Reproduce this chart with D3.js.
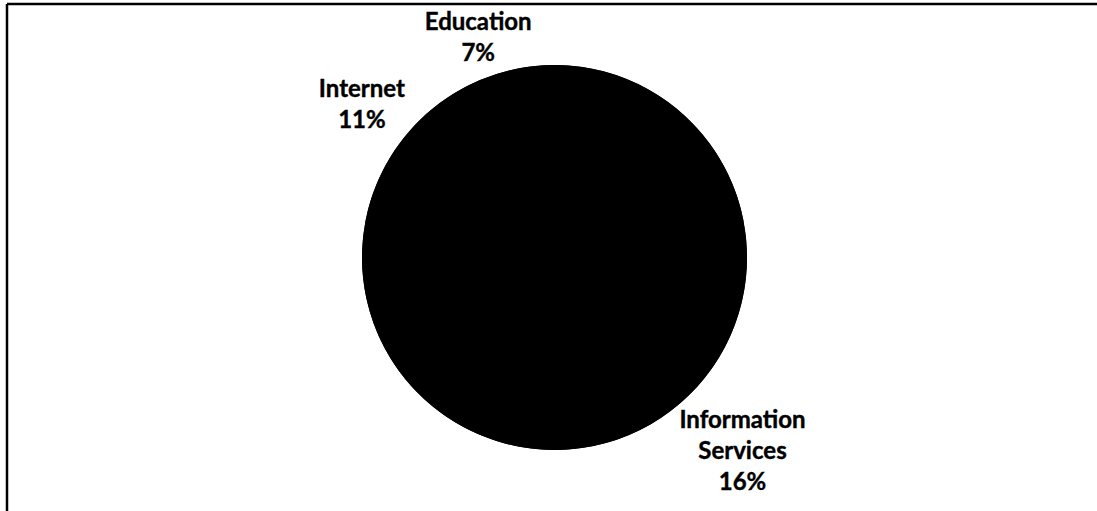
<!DOCTYPE html>
<html>
<head>
<meta charset="utf-8">
<script src="https://cdn.jsdelivr.net/npm/d3@7/dist/d3.min.js"></script>
<style>
  html, body { margin: 0; padding: 0; background: #fff; }
  svg { display: block; }
</style>
</head>
<body>
<svg id="chart" width="1097" height="511"></svg>
<script>
// Share of each sector (percent); unnamed sectors carry no label
const categories = ["", "Information Services", "", "Internet", "Education"];
const shares = [31.5, 16, 34.5, 11, 7];

const width = 1097, height = 511;
const cx = 554.5, cy = 257.5, radius = 192.5;
const firstSliceAngle = -6.5 * Math.PI / 180;
const fontSize = 24, lineHeight = 31, capHeight = 0.72 * fontSize, labelGap = 5;

const svg = d3.select("#chart");

// Frame (top and left edges)
svg.append("line").attr("x1", 7).attr("y1", 4).attr("x2", width).attr("y2", 4)
  .attr("stroke", "#000").attr("stroke-width", 2.5);
svg.append("line").attr("x1", 7).attr("y1", 4).attr("x2", 7).attr("y2", height)
  .attr("stroke", "#000").attr("stroke-width", 2.5);

const data = categories.map((c, i) => ({ category: c, value: shares[i] }));

const pie = d3.pie().value(d => d.value).sort(null)
  .startAngle(firstSliceAngle).endAngle(firstSliceAngle + 2 * Math.PI);
const arc = d3.arc().innerRadius(0).outerRadius(radius);

const g = svg.append("g").attr("transform", `translate(${cx},${cy})`);
const arcs = pie(data);

// solid disc underneath so slice edges leave no seams
g.append("circle").attr("r", radius).attr("fill", "#000");

g.selectAll("path.slice").data(arcs).join("path")
  .attr("class", "slice")
  .attr("d", arc)
  .attr("fill", "#000");

// Labels sit outside the pie, along each slice's mid angle
const labelled = arcs.filter(a => a.data.category !== "");
const labels = g.selectAll("text.label").data(labelled).join("text")
  .attr("class", "label")
  .attr("font-family", "Lato, 'Open Sans', sans-serif")
  .attr("font-weight", "bold")
  .attr("font-size", fontSize)
  .attr("fill", "#000")
  .attr("stroke", "#000")
  .attr("stroke-width", 0.4)
  .attr("text-anchor", "middle");

labels.each(function(a) {
  const t = d3.select(this);
  const words = a.data.category.split(" ");
  const lines = words.concat([Math.round(a.data.value) + "%"]);
  lines.forEach((ln, i) => {
    t.append("tspan").attr("x", 0).attr("dy", i === 0 ? 0 : lineHeight).text(ln);
  });
  const bb = this.getBBox();
  // glyph box: from cap top of first line to baseline of last line
  const boxW = bb.width;
  const top = -capHeight, bottom = (lines.length - 1) * lineHeight;
  const boxH = bottom - top;
  const mid = (a.startAngle + a.endAngle) / 2;
  const ux = Math.sin(mid), uy = -Math.cos(mid);
  // push the label box out along the ray until its nearest point clears the circle
  const nearest = (d) => {
    const bx = ux * d - boxW / 2, by = uy * d - boxH / 2;
    const nx = Math.max(bx, Math.min(0, bx + boxW));
    const ny = Math.max(by, Math.min(0, by + boxH));
    return Math.hypot(nx, ny);
  };
  let lo = 0, hi = radius * 3;
  for (let k = 0; k < 50; k++) {
    const m = (lo + hi) / 2;
    if (nearest(m) < radius + labelGap) lo = m; else hi = m;
  }
  const px = ux * hi, py = uy * hi;
  const ox = px - (bb.x + bb.width / 2);
  const oy = py - (top + boxH / 2);
  t.attr("transform", `translate(${ox},${oy})`);
});
</script>
</body>
</html>
